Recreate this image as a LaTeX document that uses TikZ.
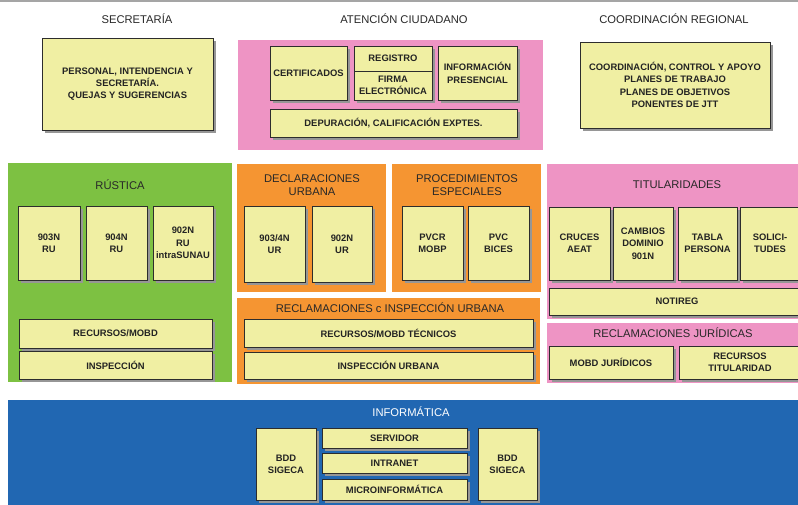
\documentclass[tikz,border=0pt]{standalone}
\usepackage{fontspec}
\setmainfont{Liberation Sans}
\usetikzlibrary{shadows}

\definecolor{cellfill}{RGB}{240,239,163}
\definecolor{cellline}{RGB}{45,45,45}
\definecolor{cellshade}{RGB}{150,150,150}
\definecolor{celltext}{RGB}{35,35,35}
\definecolor{pinkbg}{RGB}{238,148,196}
\definecolor{greenbg}{RGB}{125,193,66}
\definecolor{orangebg}{RGB}{245,149,50}
\definecolor{bluebg}{RGB}{33,103,178}
\definecolor{toprule}{RGB}{165,165,165}
\definecolor{headtext}{RGB}{40,40,40}

\newcommand\cellfnt{\fontsize{9.4}{12.3}\selectfont\bfseries}
\newcommand\headfnt{\fontsize{11.2}{13}\selectfont}

\begin{document}
\begin{tikzpicture}[x=1pt,y=-1pt,
  % a rectangle given by its corners (x1,y1) and (x2,y2)
  spans/.style n args={4}{minimum width={(#3-#1)*1pt}, minimum height={(#4-#2)*1pt},
    at={({(#1+#3)/2},{(#2+#4)/2})}},
  cell/.style={draw=cellline, line width=0.8pt, fill=cellfill, inner sep=0pt,
    align=center, font=\cellfnt, text=celltext,
    general shadow={fill=cellshade, shadow xshift=3pt, shadow yshift=-3pt}},
  panel/.style={inner sep=0pt, draw=none},
  head/.style={font=\headfnt, text=headtext, inner sep=0pt, align=center},
]
\useasboundingbox (0,0) rectangle (798,504);
\clip (0,0) rectangle (798,504);
\fill[white] (0,0) rectangle (798,504);
\fill[toprule] (0,0) rectangle (798,2);

% column titles
\node[head] (tsec) at (137,19) {SECRETARÍA};
\node[head] (tat)  at (404,19) {ATENCIÓN CIUDADANO};
\node[head] (tcoo) at (674,19) {COORDINACIÓN REGIONAL};

% Secretaría
\node[cell, spans={42}{38}{213}{130}] (sec)
  {PERSONAL, INTENDENCIA Y\\SECRETARÍA.\\QUEJAS Y SUGERENCIAS};

% Atención ciudadano
\node[panel, fill=pinkbg, spans={238}{40}{543}{150}] (pat) {};
\node[cell, spans={270}{46}{347}{100}] (cert) {CERTIFICADOS};
\node[cell, spans={354}{46}{432}{71}] (reg) {REGISTRO};
\node[cell, spans={354}{71}{432}{100}] (firma) {FIRMA\\ELECTRÓNICA};
\node[cell, spans={438}{46}{517}{100}] (info) {INFORMACIÓN\\PRESENCIAL};
\node[cell, spans={270}{109}{517}{137}] (dep) {DEPURACIÓN, CALIFICACIÓN EXPTES.};

% Coordinación regional
\node[cell, spans={580}{42}{770}{128}] (coo)
  {COORDINACIÓN, CONTROL Y APOYO\\PLANES DE TRABAJO\\PLANES DE OBJETIVOS\\PONENTES DE JTT};

% Rústica
\node[panel, fill=greenbg, spans={8}{163}{232}{382}] (prus) {};
\node[head] (lrus) at (120,185) {RÚSTICA};
\node[cell, spans={18}{206}{80}{280}] (r903) {903N\\RU};
\node[cell, spans={86}{206}{147}{280}] (r904) {904N\\RU};
\node[cell, spans={153}{206}{213}{280}] (r902) {902N\\RU\\intraSUNAU};
\node[cell, spans={19}{319}{212}{348}] (rrec) {RECURSOS/MOBD};
\node[cell, spans={19}{351}{212}{379}] (rins) {INSPECCIÓN};

% Declaraciones urbana
\node[panel, fill=orangebg, spans={237}{164}{386}{292}] (pdec) {};
\node[head] (ldec) at (312,185) {DECLARACIONES\\URBANA};
\node[cell, spans={244}{206}{305}{282}] (u9034) {903/4N\\UR};
\node[cell, spans={312}{206}{372}{282}] (u902) {902N\\UR};

% Procedimientos especiales
\node[panel, fill=orangebg, spans={392}{164}{541}{292}] (pproc) {};
\node[head] (lproc) at (467,185) {PROCEDIMIENTOS\\ESPECIALES};
\node[cell, spans={402}{206}{463}{280}] (pvcr) {PVCR\\MOBP};
\node[cell, spans={468}{206}{529}{280}] (pvc) {PVC\\BICES};

% Reclamaciones e inspección urbana
\node[panel, fill=orangebg, spans={237}{298}{540}{384}] (purb) {};
\node[head] (lurb) at (390,308) {RECLAMACIONES c INSPECCIÓN URBANA};
\node[cell, spans={244}{319}{533}{347}] (urec) {RECURSOS/MOBD TÉCNICOS};
\node[cell, spans={244}{352}{533}{379}] (uins) {INSPECCIÓN URBANA};

% Titularidades
\node[panel, fill=pinkbg, spans={547}{164}{800}{319}] (ptit) {};
\node[head] (ltit) at (677,185) {TITULARIDADES};
\node[cell, spans={549}{207}{610}{280}] (cruces) {CRUCES\\AEAT};
\node[cell, spans={613}{207}{673}{280}] (cambios) {CAMBIOS\\DOMINIO\\901N};
\node[cell, spans={678}{207}{737}{280}] (tabla) {TABLA\\PERSONA};
\node[cell, spans={740}{207}{800}{280}] (solic) {SOLICI-\\TUDES};
\node[cell, spans={549}{288}{805}{315}] (notireg) {NOTIREG};

% Reclamaciones jurídicas
\node[panel, fill=pinkbg, spans={547}{323}{800}{383}] (pjur) {};
\node[head] (ljur) at (673,333) {RECLAMACIONES JURÍDICAS};
\node[cell, spans={549}{346}{673}{379}] (mobdj) {MOBD JURÍDICOS};
\node[cell, spans={679}{346}{801}{379}] (rtit) {RECURSOS\\TITULARIDAD};

% Informática
\node[panel, fill=bluebg, spans={8}{400}{800}{506}] (pinf) {};
\node[head, text=white] (linf) at (411,412) {INFORMÁTICA};
\node[cell, spans={256}{428}{316}{500}] (bdd1) {BDD\\SIGECA};
\node[cell, spans={322}{428}{467}{448}] (serv) {SERVIDOR};
\node[cell, spans={322}{453}{467}{473}] (intra) {INTRANET};
\node[cell, spans={322}{479}{467}{500}] (micro) {MICROINFORMÁTICA};
\node[cell, spans={478}{428}{537}{500}] (bdd2) {BDD\\SIGECA};
\end{tikzpicture}
\end{document}
